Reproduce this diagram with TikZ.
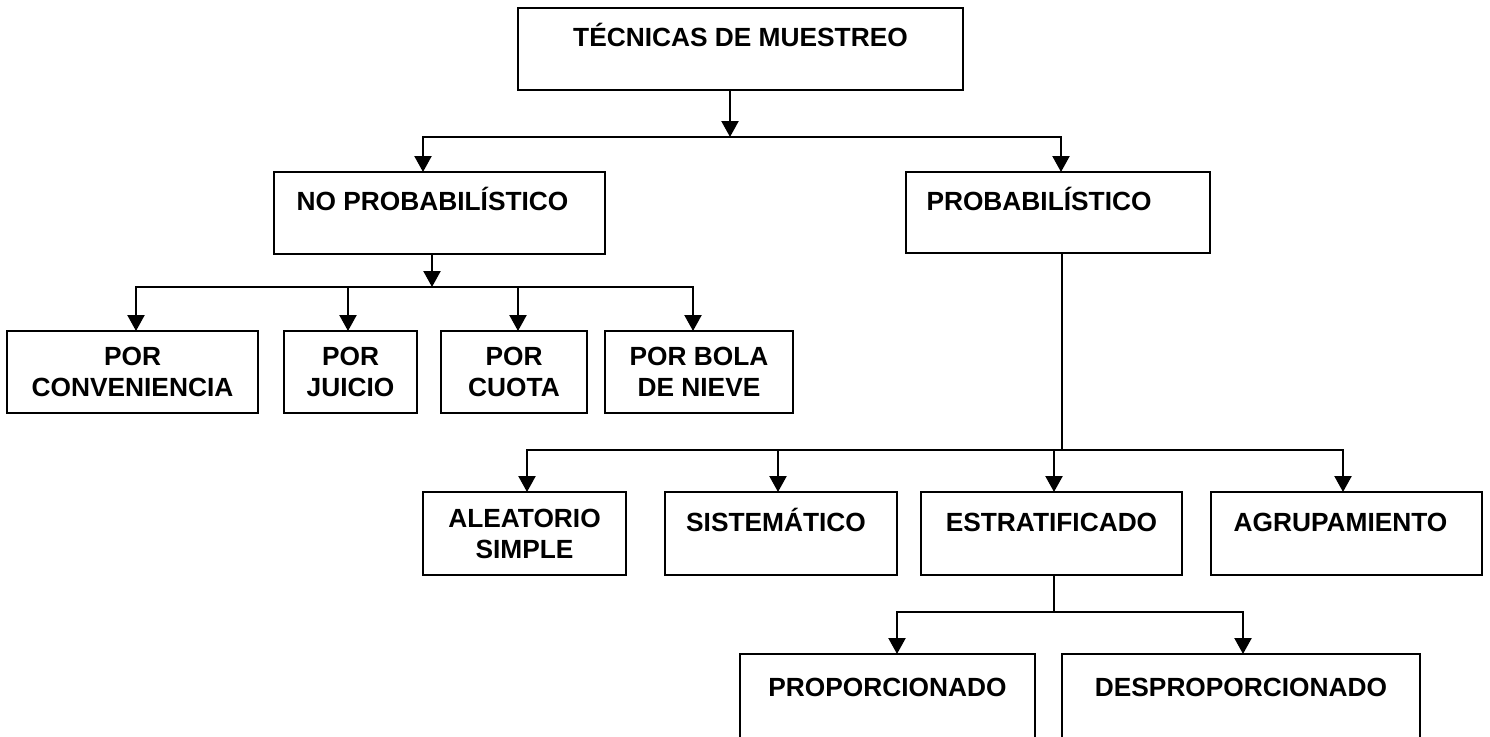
\documentclass[tikz,border=0pt]{standalone}
\usepackage{fontspec}
\setmainfont{Liberation Sans}
\usepackage{tikz}
\usetikzlibrary{arrows.meta,positioning}

\newcommand{\lbl}{\fontsize{26.3pt}{31pt}\selectfont\bfseries}

\tikzset{
  box/.style={draw, line width=2pt, inner sep=0pt, outer sep=0pt, anchor=north west, font=\lbl, align=center},
  topbox/.style={box, text height=20pt, text depth=25pt},
  link/.style={line width=2.3pt},
  arr/.style={link, -{Triangle[width=17pt,length=16pt]}},
}

\begin{document}
\begin{tikzpicture}[x=1pt,y=-1pt]
    \clip (0,0) rectangle (1490,736);
    \useasboundingbox (0,0) rectangle (1490,736);

    \node [topbox, minimum width=445, minimum height=82] (tec) at (518,8) {TÉCNICAS DE MUESTREO};

    \node [topbox, minimum width=331, minimum height=82] (noprob) at (274,172) {NO PROBABILÍSTICO\hspace*{14pt}};
    \node [topbox, minimum width=304, minimum height=81] (prob)   at (906,172) {PROBABILÍSTICO\hspace*{38pt}};

    \node [box, minimum width=251, minimum height=82] (conv)   at (7,331)   {POR\\CONVENIENCIA};
    \node [box, minimum width=133, minimum height=82] (juicio) at (284,331) {POR\\JUICIO};
    \node [box, minimum width=146, minimum height=82] (cuota)  at (441,331) {POR\\CUOTA};
    \node [box, minimum width=188, minimum height=82] (bola)   at (605,331) {POR BOLA\\DE NIEVE};

    \node [box,    minimum width=203, minimum height=83] (aleat)  at (423,492)  {ALEATORIO\\SIMPLE};
    \node [topbox, minimum width=232, minimum height=83] (sist)   at (665,492)  {SISTEMÁTICO\hspace*{10pt}};
    \node [topbox, minimum width=261, minimum height=83] (estrat) at (921,492)  {ESTRATIFICADO};
    \node [topbox, minimum width=271, minimum height=83] (agrup)  at (1211,492) {AGRUPAMIENTO\hspace*{12pt}};

    \node [topbox, minimum width=295, minimum height=90] (propor)  at (740,654)  {PROPORCIONADO};
    \node [topbox, minimum width=358, minimum height=90] (desprop) at (1062,654) {DESPROPORCIONADO};

    \coordinate (j1) at (730,137);
    \coordinate (j2) at (432,287);
    \coordinate (j3) at (1062,450);
    \coordinate (j4) at (1054,612);

    \draw [arr] ([xshift=-10.5]tec.south) -- (j1);
    \draw [arr] (j1) -| ([xshift=-16.5]noprob.north);
    \draw [arr] (j1) -| ([xshift=3]prob.north);

    \draw [arr] ([xshift=-7.5]noprob.south) -- (j2);
    \foreach \n/\dx in {conv/3.5, juicio/-2.5, cuota/4, bola/-6}
        \draw [arr] (j2) -| ([xshift=\dx]\n.north);

    \draw [link] ([xshift=4]prob.south) -- (j3);
    \foreach \n/\dx in {aleat/2.5, sist/-3, estrat/2.5, agrup/-3.5}
        \draw [arr] (j3) -| ([xshift=\dx]\n.north);

    \draw [link] ([xshift=2.5]estrat.south) -- (j4);
    \foreach \n/\dx in {propor/9.5, desprop/2}
        \draw [arr] (j4) -| ([xshift=\dx]\n.north);
\end{tikzpicture}
\end{document}
